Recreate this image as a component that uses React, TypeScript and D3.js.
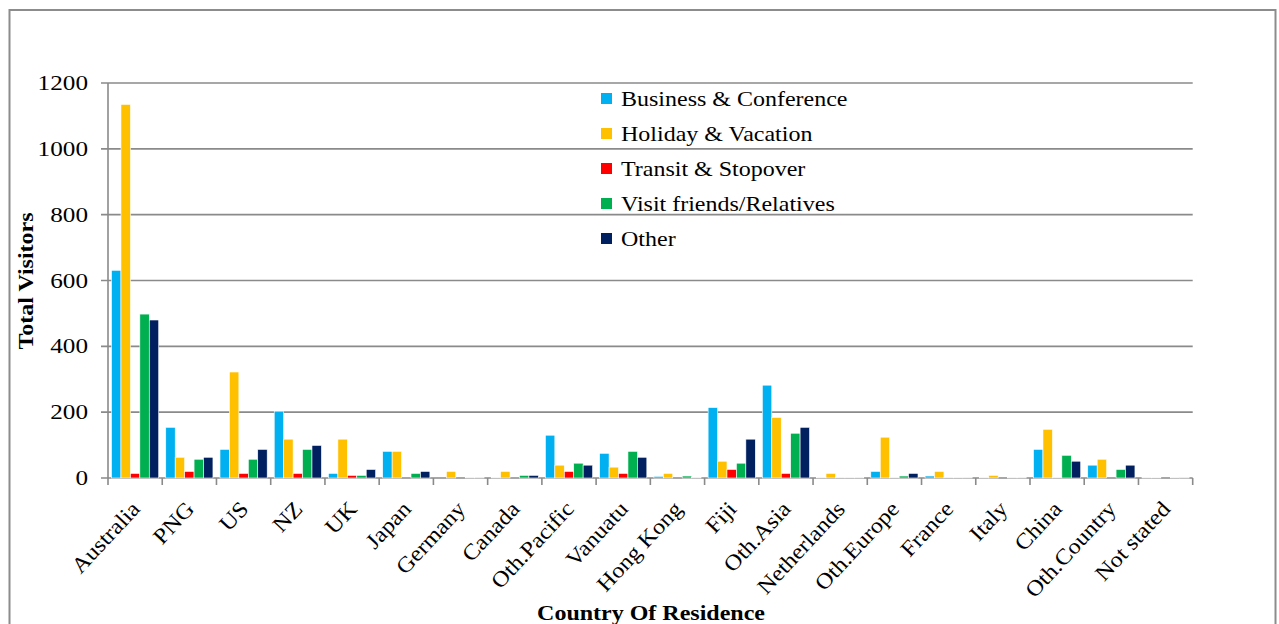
import React from "react";
import * as d3 from "d3";

const categories = ["Australia","PNG","US","NZ","UK","Japan","Germany","Canada","Oth.Pacific","Vanuatu","Hong Kong","Fiji","Oth.Asia","Netherlands","Oth.Europe","France","Italy","China","Oth.Country","Not stated"];
const seriesNames = ["Business & Conference","Holiday & Vacation","Transit & Stopover","Visit friends/Relatives","Other"];
const seriesColors = ["#00B0F0","#FFC000","#FF0000","#00B050","#002060"];
const business = [631,154,87,203,14,81,0,1,130,75,5,214,282,1,20,6,1,87,39,1];
const holiday = [1135,63,322,118,118,81,20,20,39,33,14,51,184,14,124,20,8,148,57,1];
const transit = [14,20,14,14,8,0,0,0,20,14,0,26,14,1,1,1,0,1,0,0];
const visit = [498,57,57,87,8,14,2,8,45,81,6,45,136,1,6,1,1,69,26,1];
const other = [480,63,87,99,26,20,2,8,39,63,1,118,154,1,14,1,1,51,39,2];
const yTicks = [0,200,400,600,800,1000,1200];

const seriesValues = [business, holiday, transit, visit, other];

export default function App() {
  const W = 1279, H = 624;
  const left = 108, right = 1192.7, top = 83, bottom = 478;
  const x0 = d3.scaleBand<string>().domain(categories).range([left, right]).padding(0);
  const bw = x0.bandwidth();
  const x1 = d3.scaleBand<number>().domain(d3.range(5)).range([bw * 0.065, bw * 0.935]).padding(0);
  const y = d3.scaleLinear().domain([0, 1200]).range([bottom, top]);
  const font = "'Liberation Serif', 'Times New Roman', serif";
  const grid = "#8a8a8a";

  return (
    <svg width={W} height={H} style={{ position: "absolute", left: 0, top: 0, background: "#fff" }} fontFamily={font}>
      <rect x={9.5} y={10} width={1266} height={640} fill="#fff" stroke="#8c8c8c" strokeWidth={2} />
      {yTicks.map((t) => (
        <g key={t}>
          <line x1={101} x2={right} y1={y(t)} y2={y(t)} stroke={grid} strokeWidth={1.6} />
          <text transform={`translate(88,${y(t) + 7}) scale(1.2,1)`} textAnchor="end" fontSize={21} fill="#000">{t}</text>
        </g>
      ))}
      <line x1={left} x2={left} y1={top} y2={bottom} stroke={grid} strokeWidth={1.6} />
      {d3.range(categories.length + 1).map((i) => {
        const xx = left + i * bw;
        return <line key={i} x1={xx} x2={xx} y1={bottom} y2={bottom + 7} stroke={grid} strokeWidth={1.6} />;
      })}
      {categories.map((c, ci) => (
        <g key={c}>
          {seriesValues.map((vals, si) => {
            const v = vals[ci];
            const bx = (x0(c) as number) + (x1(si) as number);
            return (
              <rect key={si} x={bx} y={y(v)} width={x1.bandwidth()} height={bottom - y(v)} fill={seriesColors[si]} stroke="#fff" strokeWidth={0.6} />
            );
          })}
        </g>
      ))}
      {categories.map((c) => {
        const cx = (x0(c) as number) + bw / 2 + 6;
        return (
          <text key={c} transform={`translate(${cx},${510}) rotate(-47) scale(1.1,1)`} textAnchor="end" fontSize={22} fill="#000">{c}</text>
        );
      })}
      <text transform={`translate(33,281) rotate(-90) scale(1.2,1)`} textAnchor="middle" fontSize={20} fontWeight="bold" fill="#000">Total Visitors</text>
      <text transform={`translate(651,620) scale(1.2,1)`} textAnchor="middle" fontSize={20} fontWeight="bold" fill="#000">Country Of Residence</text>
      {seriesNames.map((n, i) => {
        const cy = 99 + i * 35;
        return (
          <g key={n}>
            <rect x={601} y={cy - 6} width={11} height={11} fill={seriesColors[i]} />
            <text transform={`translate(621,${cy + 7}) scale(1.2,1)`} fontSize={20} fill="#000">{n}</text>
          </g>
        );
      })}
    </svg>
  );
}
